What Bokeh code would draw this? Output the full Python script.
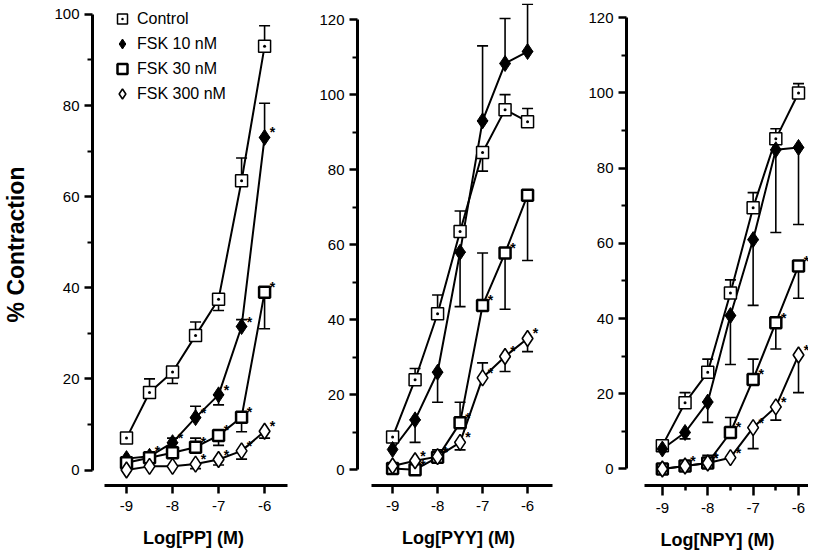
from bokeh.plotting import figure
from bokeh.models import (ColumnDataSource, Whisker, TeeHead, Legend, LegendItem,
                          FixedTicker, Range1d)
from bokeh.layouts import row
from bokeh.embed import file_html
from bokeh.resources import INLINE
from bokeh.core.properties import value

FONT = "Liberation Sans"

# ---------------- data ----------------
log_conc = [-9.0, -8.5, -8.0, -7.5, -7.0, -6.5, -6.0]
x_ticks = [-9, -8, -7, -6]
x_tick_labels = ["-9", "-8", "-7", "-6"]
series_labels = ["Control", "FSK 10 nM", "FSK 30 nM", "FSK 300 nM"]
x_titles = ["Log[PP] (M)", "Log[PYY] (M)", "Log[NPY] (M)"]
y_title = "% Contraction"

# PP panel (mean % contraction, signed SEM: + drawn up, - drawn down, asterisk flags)
pp_control = [7, 17, 21.5, 29.5, 37.5, 63.5, 93]
pp_control_err = [0, 3, -2.5, 3, -2.5, 5, 4.5]
pp_fsk10 = [2.5, 3, 6, 11.5, 16.5, 31.5, 73]
pp_fsk10_err = [0, 0, 1, 2.5, -2.2, 1.5, 7.5]
pp_fsk10_sig = [0, 1, 1, 1, 1, 1, 1]
pp_fsk30 = [1.6, 2.7, 3.8, 5, 7.6, 11.6, 39]
pp_fsk30_err = [0, 0, 0, 2, -2.2, -3.2, -8]
pp_fsk30_sig = [0, 0, 0, 1, 1, 1, 1]
pp_fsk300 = [0, 0.8, 0.8, 1.3, 2.3, 4.2, 8.5]
pp_fsk300_err = [0, 0, 0, -1, -1.2, -1.8, -1.5]
pp_fsk300_sig = [0, 0, 0, 1, 1, 1, 1]

# PYY panel
pyy_control = [8.7, 24, 41.6, 63.5, 84.6, 96, 92.8]
pyy_control_err = [0, 3, 5, 5.5, -5, 4, 3.5]
pyy_fsk10 = [5.4, 13.3, 26, 58, 93, 108.3, 111.5]
pyy_fsk10_err = [0, -6, -8, -14.5, 20, 12, 12.6]
pyy_fsk10_sig = [0, 0, 0, 0, 0, 0, 0]
pyy_fsk30 = [0.3, 0, 3.3, 12.5, 43.8, 57.8, 73.2]
pyy_fsk30_err = [0, 0, 2, 5.5, 14, -15, -17.4]
pyy_fsk30_sig = [0, 1, 1, 1, 1, 1, 0]
pyy_fsk300 = [1, 2.4, 3.5, 7.3, 24.5, 30.2, 35]
pyy_fsk300_err = [0, 0, 0, -2, 4, -4, -3.5]
pyy_fsk300_sig = [0, 1, 1, 1, 1, 1, 1]

# NPY panel
npy_control = [6.2, 17.6, 25.7, 46.8, 69.5, 87.8, 100]
npy_control_err = [0, 2.7, 3.5, 3.5, 4, 2.7, 2.5]
npy_fsk10 = [5.3, 9.7, 17.8, 40.8, 61, 84.9, 85.5]
npy_fsk10_err = [0, -1.7, -5.4, -13, -17.5, -22, -20.5]
npy_fsk10_sig = [0, 0, 0, 0, 0, 0, 0]
npy_fsk30 = [0, 0.8, 1.6, 9.7, 23.8, 38.9, 54]
npy_fsk30_err = [0, 0, 2, 4, 5.4, -7, -8.6]
npy_fsk30_sig = [0, 1, 1, 1, 1, 1, 1]
npy_fsk300 = [0, 0.8, 1.6, 3, 11, 16.5, 30.3]
npy_fsk300_err = [0, 0, 0, 0, -5.6, -3.5, -10]
npy_fsk300_sig = [0, 0, 1, 1, 1, 1, 1]

no_sig = [0, 0, 0, 0, 0, 0, 0]

panels_data = [
    [(pp_control, pp_control_err, no_sig), (pp_fsk10, pp_fsk10_err, pp_fsk10_sig),
     (pp_fsk30, pp_fsk30_err, pp_fsk30_sig), (pp_fsk300, pp_fsk300_err, pp_fsk300_sig)],
    [(pyy_control, pyy_control_err, no_sig), (pyy_fsk10, pyy_fsk10_err, pyy_fsk10_sig),
     (pyy_fsk30, pyy_fsk30_err, pyy_fsk30_sig), (pyy_fsk300, pyy_fsk300_err, pyy_fsk300_sig)],
    [(npy_control, npy_control_err, no_sig), (npy_fsk10, npy_fsk10_err, npy_fsk10_sig),
     (npy_fsk30, npy_fsk30_err, npy_fsk30_sig), (npy_fsk300, npy_fsk300_err, npy_fsk300_sig)],
]

y_major = [[0, 20, 40, 60, 80, 100], [0, 20, 40, 60, 80, 100, 120], [0, 20, 40, 60, 80, 100, 120]]
y_minor = [[10, 30, 50, 70, 90], [10, 30, 50, 70, 90, 110], [10, 30, 50, 70, 90, 110]]

# ---------------- styles / layout ----------------
styles = [
    dict(marker="square_dot", size=12, fill_color="white", line_width=1.5),
    dict(marker="diamond", size=16, fill_color="black", line_width=1),
    dict(marker="square", size=11, fill_color="white", line_width=2.5),
    dict(marker="diamond", size=16, fill_color="white", line_width=1.6),
]

FRAME_H = 482
TOP = 3
layouts = [
    dict(x_range=(-9.739, -5.35), y_range=(-3.4, 102.4), x_bounds=(-9.48, -5.5),
         frame_w=202, left=90, x_minor=[]),
    dict(x_range=(-9.78, -5.29), y_range=(-4.2, 124.3), x_bounds=(-9.47, -5.44),
         frame_w=202, left=63, x_minor=[]),
    dict(x_range=(-9.79, -5.78), y_range=(-4.4, 123.8), x_bounds=(-9.4, -5.78),
         frame_w=182, left=67, x_minor=[-8.5, -7.5, -6.5]),
]


def make_panel(i):
    L = layouts[i]
    p = figure(frame_width=L["frame_w"], frame_height=FRAME_H,
               x_range=Range1d(*L["x_range"]), y_range=Range1d(*L["y_range"]),
               output_backend="svg", toolbar_location=None,
               min_border_left=L["left"], min_border_right=0,
               min_border_top=TOP, min_border_bottom=0)
    p.outline_line_color = None
    p.grid.visible = False
    p.background_fill_color = "white"
    p.border_fill_color = "white"

    # axes
    xa = p.xaxis[0]
    xa.ticker = FixedTicker(ticks=x_ticks, minor_ticks=L["x_minor"])
    xa.major_label_overrides = {t: s for t, s in zip(x_ticks, x_tick_labels)}
    xa.bounds = L["x_bounds"]
    xa.axis_line_width = 3
    xa.major_tick_line_width = 2.5
    xa.minor_tick_line_width = 2.5
    xa.major_tick_out = 10 if L["x_minor"] else 8
    xa.major_tick_in = 0
    xa.minor_tick_out = 5
    xa.minor_tick_in = 0
    xa.major_label_standoff = 7
    xa.major_label_text_font = FONT
    xa.major_label_text_font_size = "15px"
    xa.major_label_text_color = "black"
    xa.axis_label = x_titles[i]
    xa.axis_label_text_font = FONT
    xa.axis_label_text_font_style = "bold"
    xa.axis_label_text_font_size = "18px"
    xa.axis_label_text_color = "black"
    xa.axis_label_standoff = 14

    ya = p.yaxis[0]
    ya.ticker = FixedTicker(ticks=y_major[i], minor_ticks=y_minor[i])
    ya.bounds = (y_major[i][0], y_major[i][-1])
    ya.axis_line_width = 3
    ya.major_tick_line_width = 2.5
    ya.minor_tick_line_width = 2
    ya.major_tick_out = 8
    ya.major_tick_in = 0
    ya.minor_tick_out = 5
    ya.minor_tick_in = 0
    ya.major_label_standoff = 5
    ya.major_label_text_font = FONT
    ya.major_label_text_font_size = "15px"
    ya.major_label_text_color = "black"
    if i == 0:
        ya.axis_label = y_title
        ya.axis_label_text_font = FONT
        ya.axis_label_text_font_style = "bold"
        ya.axis_label_text_font_size = "23px"
        ya.axis_label_text_color = "black"
        ya.axis_label_standoff = 22

    scatter_renderers = []
    for k, (mean, err, sig) in enumerate(panels_data[i]):
        p.line(log_conc, mean, line_color="black", line_width=2)

    for k, (mean, err, sig) in enumerate(panels_data[i]):
        base = [x for x, e in zip(log_conc, err) if e != 0]
        lower = [min(m, m + e) for m, e in zip(mean, err) if e != 0]
        upper = [max(m, m + e) for m, e in zip(mean, err) if e != 0]
        src = ColumnDataSource(dict(base=base, lower=lower, upper=upper))
        w = Whisker(source=src, base="base", lower="lower", upper="upper",
                    line_color="black", line_width=1.6,
                    upper_head=TeeHead(size=11, line_width=1.6, line_color="black"),
                    lower_head=TeeHead(size=11, line_width=1.6, line_color="black"))
        p.add_layout(w)

    for k, (mean, err, sig) in enumerate(panels_data[i]):
        st = styles[k]
        r = p.scatter(log_conc, mean, marker=st["marker"], size=st["size"],
                      fill_color=st["fill_color"], line_color="black",
                      line_width=st["line_width"])
        scatter_renderers.append(r)

    for k, (mean, err, sig) in enumerate(panels_data[i]):
        sx = [x for x, s in zip(log_conc, sig) if s]
        sy = [m for m, s in zip(mean, sig) if s]
        if sx:
            p.text(sx, sy, text=["*"] * len(sx), x_offset=8, y_offset=-5,
                   text_font=value(FONT), text_font_size="14px", text_font_style="bold",
                   text_align="center", text_baseline="middle", text_color="black")

    if i == 0:
        items = [LegendItem(label=series_labels[k], renderers=[scatter_renderers[k]])
                 for k in range(4)]
        legend = Legend(items=items, location=(15, FRAME_H - 3 - 100),
                        padding=0, spacing=0, glyph_width=30, glyph_height=25,
                        label_height=20, label_standoff=0, label_text_font=FONT,
                        label_text_font_size="16px", label_text_color="black",
                        background_fill_alpha=0, border_line_color=None, margin=0)
        p.add_layout(legend)
    return p


p = row(make_panel(0), make_panel(1), make_panel(2), spacing=0)

open("out.html", "w").write(file_html(p, INLINE))
